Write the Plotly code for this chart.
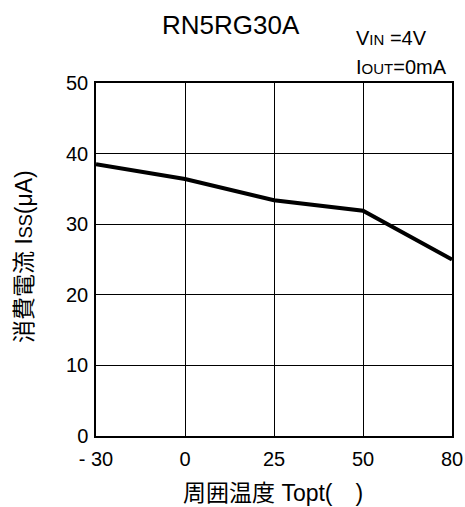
import plotly.graph_objects as go

temps = ["- 30", "0", "25", "50", "80"]
iss = [38.5, 36.4, 33.4, 31.9, 25.0]
y_ticks = [0, 10, 20, 30, 40, 50]

FONT = "Liberation Sans, Arial, Noto Sans CJK JP, sans-serif"

fig = go.Figure()
fig.add_trace(go.Scatter(x=list(range(len(temps))), y=iss, mode="lines",
                         line=dict(color="black", width=4), showlegend=False))

fig.update_layout(
    width=465, height=507,
    margin=dict(l=96, r=13, t=83, b=71, autoexpand=False),
    paper_bgcolor="white", plot_bgcolor="white",
    font=dict(family=FONT, size=20, color="black"),
)
fig.update_xaxes(range=[0, len(temps) - 1], tickvals=list(range(len(temps))), ticktext=temps,
                 showgrid=True, gridcolor="black", gridwidth=1.2,
                 showline=True, linecolor="black", linewidth=1.5, mirror=True,
                 ticks="", zeroline=False, tickfont=dict(size=20),
                 automargin=False, ticklabelstandoff=4)
fig.update_yaxes(range=[0, 50], tickvals=y_ticks,
                 showgrid=True, gridcolor="black", gridwidth=1.2,
                 showline=True, linecolor="black", linewidth=1.5, mirror=True,
                 ticks="", zeroline=False, tickfont=dict(size=20),
                 automargin=False, ticklabelstandoff=2)

fig.add_annotation(text="RN5RG30A", xref="paper", yref="paper",
                   x=(231 - 96) / 356, y=1.0, yshift=58, xanchor="center", yanchor="middle",
                   showarrow=False, font=dict(size=26))
fig.add_annotation(text="V<span style='font-size:15px'>IN</span> =4V", xref="paper", yref="paper",
                   x=(354 - 96) / 356, y=1.0, yshift=45, xanchor="left", yanchor="middle",
                   showarrow=False, font=dict(size=20))
fig.add_annotation(text="I<span style='font-size:15px'>OUT</span>=0mA", xref="paper", yref="paper",
                   x=(354 - 96) / 356, y=1.0, yshift=16, xanchor="left", yanchor="middle",
                   showarrow=False, font=dict(size=20))
fig.add_annotation(text="周囲温度 Topt(　)", xref="paper", yref="paper",
                   x=(273 - 96) / 356, y=0, yshift=-57, xanchor="center", yanchor="middle",
                   showarrow=False, font=dict(size=23))
fig.add_annotation(text="消費電流 I<span style='font-size:18px'>SS</span>(μA)", xref="paper", yref="paper",
                   x=0, xshift=-72, y=(436 - 257) / 353, xanchor="center", yanchor="middle", textangle=-90,
                   showarrow=False, font=dict(size=23))

fig.write_html("out.html")
